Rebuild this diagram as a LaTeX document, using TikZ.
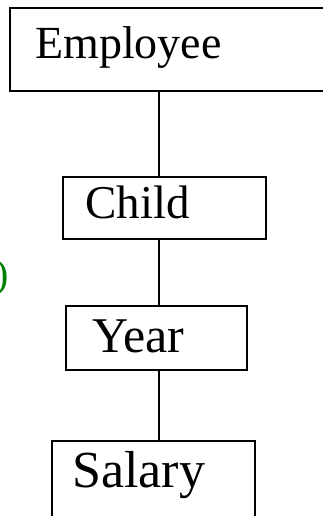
\documentclass[tikz,border=0pt]{standalone}
\usepackage{fontspec}
\setmainfont{Liberation Serif}
\definecolor{pgreen}{RGB}{0,128,0}
\begin{document}
\begin{tikzpicture}[x=1pt,y=-1pt,
  box/.style={draw=black,line width=2pt,rectangle,inner sep=0pt,fill=none},
  lbl/.style={anchor=base west,inner sep=0pt},
  link/.style={draw=black,line width=2pt}]
\useasboundingbox (0,0) rectangle (323,516);
\node[box,minimum width=330pt,minimum height=83pt] (emp) at (175,49.5) {};
\node[box,minimum width=203pt,minimum height=62pt] (child) at (164.5,208) {};
\node[box,minimum width=181pt,minimum height=64pt] (year) at (156.5,338) {};
\node[box,minimum width=203pt,minimum height=89pt] (sal) at (153.5,485.5) {};
\node[lbl,font=\fontsize{46}{50}\selectfont] (tEmp) at (35,59) {Employee};
\node[lbl,font=\fontsize{47}{50}\selectfont] (tChild) at (85,218) {Child};
\node[lbl,font=\fontsize{50}{54}\selectfont] (tYear) at (92,352) {Year};
\node[lbl,font=\fontsize{52}{56}\selectfont] (tSal) at (72,487) {Salary};
\node[lbl,text=pgreen,font=\fontsize{40}{44}\selectfont] (paren) at (-4.6,287) {)};
\draw[link] (emp.south -| 159,0) -- (child.north -| 159,0);
\draw[link] (child.south -| 159,0) -- (year.north -| 159,0);
\draw[link] (year.south -| 159,0) -- (sal.north -| 159,0);
\end{tikzpicture}
\end{document}
